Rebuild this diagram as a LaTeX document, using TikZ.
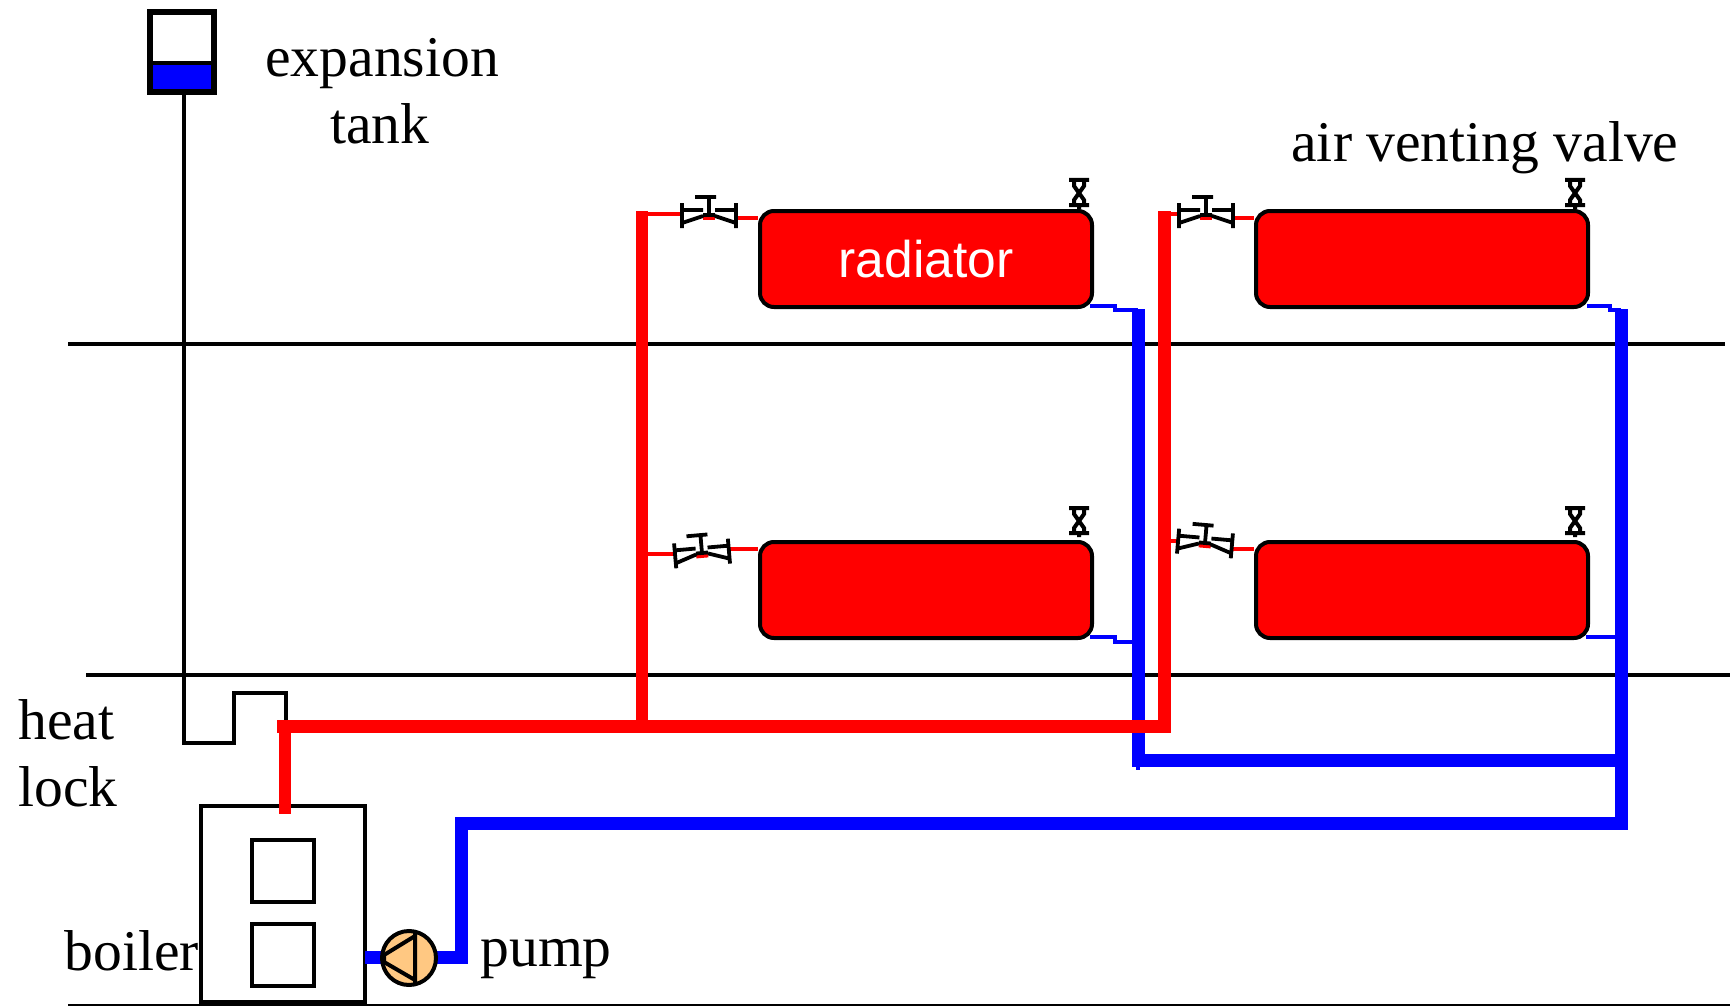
\documentclass[tikz,border=0pt]{standalone}
\usepackage{fontspec}
\setmainfont{Liberation Serif}
\newfontfamily\radfont{Liberation Sans}
\definecolor{pumpfill}{RGB}{255,200,130}
\tikzset{
  wallline/.style={line width=2pt,draw=black},
  baseline thin/.style={line width=1pt,draw=black},
  blackpipe/.style={line width=2pt,draw=black,line join=miter},
  redmain/.style={line width=6.5pt,draw=red,line join=miter},
  redriser/.style={line width=6pt,draw=red,line join=miter},
  bluemain/.style={line width=6.5pt,draw=blue,line join=miter},
  redthin/.style={line width=1.9pt,draw=red},
  bluethin/.style={line width=1.9pt,draw=blue},
  radbox/.style={draw=black,fill=red,line width=2pt,rounded corners=7pt,minimum width=166pt,minimum height=48pt,inner sep=0pt},
  label/.style={font=\fontsize{28.8}{30}\selectfont,anchor=base west,inner sep=0pt,text=black},
  boilerbox/.style={draw=black,line width=2pt,minimum width=82pt,minimum height=98pt,inner sep=0pt},
  burner/.style={draw=black,line width=2pt,minimum width=31pt,minimum height=31pt,inner sep=0pt},
  pumpbody/.style={circle,draw=black,fill=pumpfill,line width=2pt,minimum size=27pt,inner sep=0pt},
  valve/.pic={
    \draw[redthin] (-6,3)--(6,3);
    \draw[line width=1.9pt,black,line join=miter]
      (-27,-12)--(-27,13) (-27,-5)--(-6,-5) (-27,8)--(-6,1)
      (27,-12)--(27,13) (27,-5)--(6,-5) (27,8)--(6,1)
      (-6,0)--(6,0)
      (0,0)--(0,-18) (-14,-18)--(7,-18);
  },
  ventvalve/.pic={
    \draw[line width=2pt,black,line join=miter]
      (-10,2)--(10,2) (-10,27)--(10,27)
      (-5,2)--(-5,8)--(0,15)--(-5,22)--(-5,27)
      (5,2)--(5,8)--(0,15)--(5,22)--(5,27)
      (0,27)--(0,31);
  }
}
\begin{document}
\begin{tikzpicture}[x=0.5pt,y=-0.5pt]
\useasboundingbox (0,0) rectangle (1730,1006);
% junctions
\coordinate (wallAw) at (68,344);   \coordinate (wallAe) at (1725,344);
\coordinate (wallBw) at (86,675);   \coordinate (wallBe) at (1730,675);
\coordinate (floorw) at (68,1005);  \coordinate (floore) at (1730,1005);
\coordinate (lockA) at (184,743); \coordinate (lockB) at (234,743);
\coordinate (lockC) at (234,693); \coordinate (lockD) at (286,693);
\coordinate (lockE) at (286,726);
\coordinate (redL) at (277,726); \coordinate (redJ) at (285,726);
\coordinate (redB) at (285,814);
\coordinate (redR1) at (642,726); \coordinate (redR1t) at (642,211);
\coordinate (redR2) at (1164,726); \coordinate (redR2t) at (1164,211);
\coordinate (blR1t) at (1138,309); \coordinate (blR1b) at (1138,760);
\coordinate (blR2t) at (1621,309); \coordinate (blR2m) at (1621,760);
\coordinate (blR2b) at (1621,823); \coordinate (blUp) at (461,823);
\coordinate (blDn) at (461,957); \coordinate (blB) at (365,957);
% walls
\draw[wallline] (wallAw)--(wallAe);
\draw[wallline] (wallBw)--(wallBe);
\draw[baseline thin] (floorw)--(floore);
% boiler
\node[boilerbox] (boiler) at (283,904) {};
\draw[black,line width=3pt] (boiler.south west)--(boiler.south east);
\node[burner] (burnA) at (283,871) {};
\node[burner] (burnB) at (283,955) {};
% tank
\fill[blue] (151,65) rectangle (213,90);
\node[draw=black,line width=2.6pt,minimum width=32pt,minimum height=40pt,inner sep=0pt] (tank) at (182,52) {};
\draw[black,line width=2.2pt] (150,63)--(214,63);
\draw[blackpipe] (tank.south -| lockA)--(lockA)--(lockB)--(lockC)--(lockD)--(lockE);
% radiators
\node[radbox,text=white,font=\radfont\fontsize{25.8}{28}\selectfont] (radA) at (926,259) {radiator};
\node[radbox] (radB) at (1422,259) {};
\node[radbox] (radC) at (926,590) {};
\node[radbox] (radD) at (1422,590) {};
% blue pipes
\draw[bluemain] (blR1t)--(blR1b)--(blR2m);
\draw[line width=2pt,blue] (blR1b)--(1138,770);
\draw[bluemain] (blR2t)--(blR2b)--(blUp)--(blDn)--(blB);
% red pipes
\draw[redmain] (redL)--(redR2)--(redR2t);
\draw[redriser] (redJ)--(redB);
\draw[redriser] (redR1)--(redR1t);
% radiator outlets
\draw[bluethin] (1090,306)--(1115,306)--(1115,310)--(blR1t |- 0,310);
\draw[bluethin] (1587,306)--(1610,306)--(1610,310)--(blR2t |- 0,310);
\draw[bluethin] (1090,637)--(1115,637)--(1115,642)--(blR1t |- 0,642);
\draw[bluethin] (1586,637)--(blR2t |- 0,637);
% valve connections
\coordinate (vA) at (709,215); \coordinate (vB) at (702,553);
\coordinate (vC) at (1206,215); \coordinate (vD) at (1205,543);
\draw[redthin] (redR1t |- 0,214)--(680,214);
\draw[redthin] (738,218)--(radA.west |- 0,218);
\draw[redthin] (redR1t |- 0,554)--(674,554);
\draw[redthin] (730,549)--(radC.west |- 0,549);
\draw[redthin] (redR2t |- 0,214)--(1178,214);
\draw[redthin] (1234,218)--(radB.west |- 0,218);
\draw[redthin] (redR2t |- 0,541)--(1178,541);
\draw[redthin] (1233,549)--(radD.west |- 0,549);
\pic at (vA) {valve};
\pic[rotate=5] at (vB) {valve};
\pic at (vC) {valve};
\pic[rotate=-5] at (vD) {valve};
\pic at (1079,178) {ventvalve};
\pic at (1575,178) {ventvalve};
\pic at (1079,506) {ventvalve};
\pic at (1575,506) {ventvalve};
% pump
\node[pumpbody] (pump) at (409,958) {};
\draw[black,line width=2pt,line join=miter] (415,932)--(415,984) (415,936)--(384,955)--(384,962)--(415,980);
% labels
\node[label] (lexp) at (265,77) {expansion};
\node[label] (ltank) at (330,144) {tank};
\node[label] (lair) at (1291,162) {air venting valve};
\node[label] (lheat) at (18,739) {heat};
\node[label] (llock) at (18,806) {lock};
\node[label] (lboil) at (64,970) {boiler};
\node[label] (lpump) at (480,966) {pump};
\end{tikzpicture}
\end{document}
